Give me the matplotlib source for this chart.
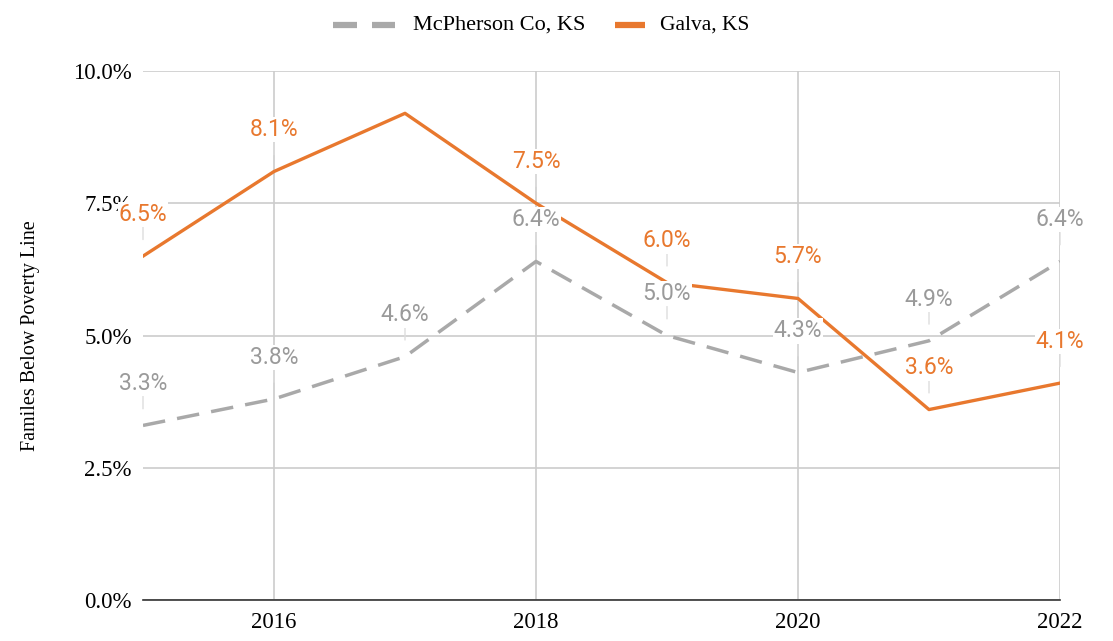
"""Families below poverty line: McPherson Co vs Galva, KS."""

import matplotlib
matplotlib.use("Agg")
from matplotlib import pyplot as plt
from matplotlib.lines import Line2D
from matplotlib.ticker import FuncFormatter

years = [2015, 2016, 2017, 2018, 2019, 2020, 2021, 2022]
mcpherson = [3.3, 3.8, 4.6, 6.4, 5.0, 4.3, 4.9, 6.4]
galva = [6.5, 8.1, 9.2, 7.5, 6.0, 5.7, 3.6, 4.1]
galva_labeled = [True, True, False, True, True, True, True, True]

gray = '#a9a9a9'
orange = '#e8782e'
serif = 'Liberation Serif'
W, H = 1113, 641

fig = plt.figure(figsize=(W / 100, H / 100), dpi=100)
ax = fig.add_axes([143 / W, 41 / H, 917 / W, 529 / H])

ax.plot(years, mcpherson, color=gray, lw=2.5, dashes=(6.5, 3.5), zorder=3)
ax.plot(years, galva, color=orange, lw=2.4, zorder=4)


def put_label(x, y, color):
    ax.annotate(f'{y:.1f}%', xy=(x, y), xytext=(0, 30), textcoords='offset points',
                ha='center', va='center', color=color, fontsize=16.5,
                family='Roboto', zorder=5,
                bbox=dict(boxstyle='square,pad=0.05', fc='white', ec='none'),
                arrowprops=dict(arrowstyle='-', color='#dddddd', lw=1,
                                shrinkA=0, shrinkB=12))


for x, y in zip(years, mcpherson):
    put_label(x, y, '#9a9a9a')
for x, y, show in zip(years, galva, galva_labeled):
    if show:
        put_label(x, y, orange)

ax.set_xlim(2015, 2022)
ax.set_ylim(0, 10)
ax.set_xticks([2016, 2018, 2020, 2022])
ax.set_yticks([0, 2.5, 5, 7.5, 10])
ax.yaxis.set_major_formatter(FuncFormatter(lambda v, p: f'{v:.1f}%'))
ax.grid(True, color='#cccccc', lw=1.2, zorder=0)
ax.set_axisbelow(True)
for s in ['top', 'right', 'left']:
    ax.spines[s].set_visible(False)
ax.spines['bottom'].set_color('#333333')
ax.spines['bottom'].set_linewidth(1.2)
ax.tick_params(axis='y', length=0, labelsize=16.5, pad=8)
ax.tick_params(axis='x', length=0, labelsize=16.5, pad=9)
for lbl in ax.get_xticklabels() + ax.get_yticklabels():
    lbl.set_family(serif)
ax.set_ylabel('Familes Below Poverty Line', family=serif, fontsize=14.5, labelpad=24)

# legend drawn by hand so the handles match the reference
ly = 1 - 25 / H
fig.add_artist(Line2D([333 / W, 357 / W], [ly, ly], color=gray, lw=4.5,
                      solid_capstyle='butt', transform=fig.transFigure))
fig.add_artist(Line2D([372 / W, 395 / W], [ly, ly], color=gray, lw=4.5,
                      solid_capstyle='butt', transform=fig.transFigure))
fig.text(413 / W, ly, 'McPherson Co, KS', family=serif, fontsize=16,
         va='center', ha='left')
fig.add_artist(Line2D([615 / W, 645 / W], [ly, ly], color=orange, lw=4.5,
                      solid_capstyle='butt', transform=fig.transFigure))
fig.text(660 / W, ly, 'Galva, KS', family=serif, fontsize=15.5,
         va='center', ha='left')

fig.savefig('out.png', dpi=100)
